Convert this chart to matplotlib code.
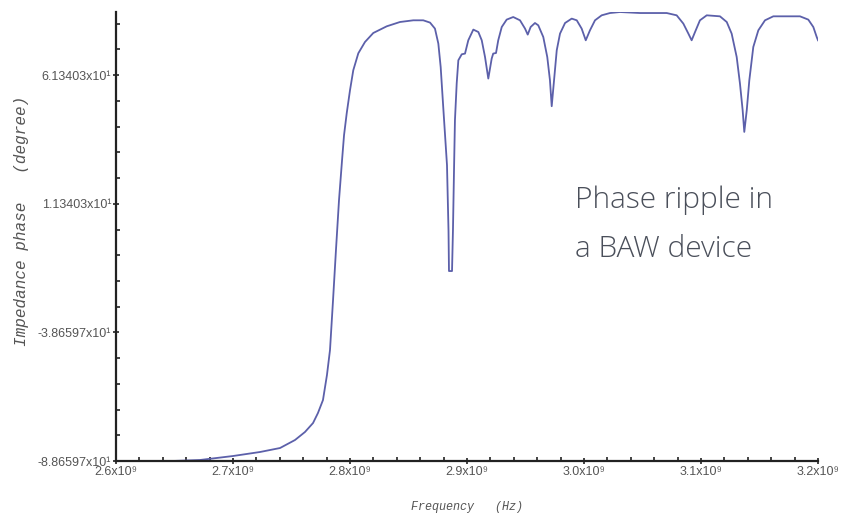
import matplotlib
matplotlib.use("Agg")
import matplotlib.pyplot as plt
from matplotlib.ticker import MultipleLocator, FixedLocator

# Frequency sweep (GHz) and impedance phase (degrees) of the resonator
freq_ghz = [2.6479, 2.6718, 2.7000, 2.7231, 2.7402, 2.7530, 2.7615, 2.7684,
            2.7726, 2.7769, 2.7803, 2.7829, 2.7855, 2.7880, 2.7906, 2.7932,
            2.7949, 2.7972, 2.8000, 2.8028, 2.8071, 2.8128, 2.8199, 2.8314,
            2.8427, 2.8541, 2.8626, 2.8684, 2.8726, 2.8755, 2.8775, 2.8792,
            2.8803, 2.8829, 2.8842, 2.8846, 2.8872, 2.8880, 2.8889, 2.8897,
            2.8912, 2.8926, 2.8955, 2.8983, 2.9011, 2.9054, 2.9097, 2.9126,
            2.9154, 2.9182, 2.9211, 2.9224, 2.9248, 2.9267, 2.9297, 2.9339,
            2.9395, 2.9453, 2.9496, 2.9519, 2.9544, 2.9581, 2.9609, 2.9652,
            2.9686, 2.9709, 2.9724, 2.9744, 2.9767, 2.9795, 2.9838, 2.9895,
            2.9938, 2.9980, 3.0015, 3.0051, 3.0094, 3.0151, 3.0222, 3.0308,
            3.0479, 3.0707, 3.0792, 3.0849, 3.0892, 3.0920, 3.0949, 3.0991,
            3.1049, 3.1162, 3.1220, 3.1262, 3.1305, 3.1333, 3.1356, 3.1370,
            3.1391, 3.1413, 3.1447, 3.1490, 3.1547, 3.1618, 3.1846, 3.1917,
            3.1960, 3.1989, 3.2000]
phase_deg = [-88.66, -88.27, -86.72, -85.16, -83.61, -80.50, -77.39, -73.90,
             -70.01, -64.96, -55.25, -45.53, -26.11, -6.68, 12.74, 28.28,
             38.00, 46.54, 55.48, 63.25, 69.85, 74.24, 77.74, 80.34,
             82.01, 82.67, 82.67, 81.78, 79.45, 73.62, 64.53, 52.40,
             44.63, 26.37, 0.73, -14.81, -14.81, 1.08, 24.39, 43.82,
             58.19, 67.13, 69.46, 69.73, 74.90, 79.06, 78.12, 74.90,
             68.41, 60.02, 67.79, 69.73, 69.96, 74.90, 80.07, 82.94,
             83.95, 82.67, 79.44, 77.11, 80.07, 81.62, 80.73, 76.18,
             68.41, 59.36, 49.26, 59.36, 71.01, 77.50, 81.62, 83.33,
             82.67, 79.44, 74.90, 78.78, 82.67, 84.61, 85.50, 85.89,
             85.50, 85.50, 84.61, 81.39, 77.50, 74.90, 78.12, 82.67,
             84.61, 84.22, 82.01, 77.50, 68.41, 58.08, 47.70, 39.27,
             47.70, 59.36, 72.30, 78.78, 82.67, 84.22, 84.22, 82.94,
             80.07, 76.18, 74.90]

x_ticks = [2.6, 2.7, 2.8, 2.9, 3.0, 3.1, 3.2]
x_tick_labels = ["2.6x10⁹", "2.7x10⁹", "2.8x10⁹", "2.9x10⁹",
                 "3.0x10⁹", "3.1x10⁹", "3.2x10⁹"]
y_ticks = [-88.6597, -38.6597, 11.3403, 61.3403]
y_tick_labels = ["-8.86597x10¹", "-3.86597x10¹", "1.13403x10¹", "6.13403x10¹"]

tick_font = ["Liberation Sans Narrow", "Liberation Sans", "DejaVu Sans"]
label_font = ["Liberation Mono", "DejaVu Sans Mono"]
note_font = ["Open Sans", "DejaVu Sans"]
grey = "#555555"

fig = plt.figure(figsize=(8.42, 5.19), dpi=100)
ax = fig.add_axes([116 / 842, 58 / 519, 702 / 842, 449 / 519])

ax.plot(freq_ghz, phase_deg, color="#5c60aa", lw=1.3, solid_joinstyle="round")

ax.set_xlim(2.6, 3.2)
ax.set_ylim(-88.6597, 85.9)

for side in ("top", "right"):
    ax.spines[side].set_visible(False)
for side in ("left", "bottom"):
    ax.spines[side].set_linewidth(1.6)
    ax.spines[side].set_color("#222222")

ax.xaxis.set_major_locator(FixedLocator(x_ticks))
ax.xaxis.set_minor_locator(MultipleLocator(0.02))
ax.yaxis.set_major_locator(FixedLocator(y_ticks))
ax.yaxis.set_minor_locator(FixedLocator([-88.6597 + 10 * k for k in range(18)]))

ax.set_xticklabels(x_tick_labels, fontfamily=tick_font, fontsize=9, color=grey)
ax.set_yticklabels(y_tick_labels, fontfamily=tick_font, fontsize=9, color=grey)

ax.tick_params(which="major", direction="inout", length=5, width=1.2,
               color="#222222", pad=1)
ax.tick_params(which="minor", direction="in", length=3, width=1.2,
               color="#222222")

ax.set_xlabel("Frequency   (Hz)", fontfamily=label_font, style="italic",
              fontsize=8.5, color=grey)
ax.xaxis.set_label_coords(0.5, -0.088)
ax.set_ylabel("Impedance phase   (degree)", fontfamily=label_font,
              style="italic", fontsize=11.5, color=grey)
ax.yaxis.set_label_coords(-0.124, 0.534)

ax.text(2.9923, 9.63, "Phase ripple in", fontfamily=note_font,
        fontweight="light", fontsize=21.5, color="#4a4f5a",
        ha="left", va="baseline")
ax.text(2.9923, -9.41, "a BAW device", fontfamily=note_font,
        fontweight="light", fontsize=21.5, color="#4a4f5a",
        ha="left", va="baseline")

fig.savefig("out.png", dpi=100, facecolor="white")
